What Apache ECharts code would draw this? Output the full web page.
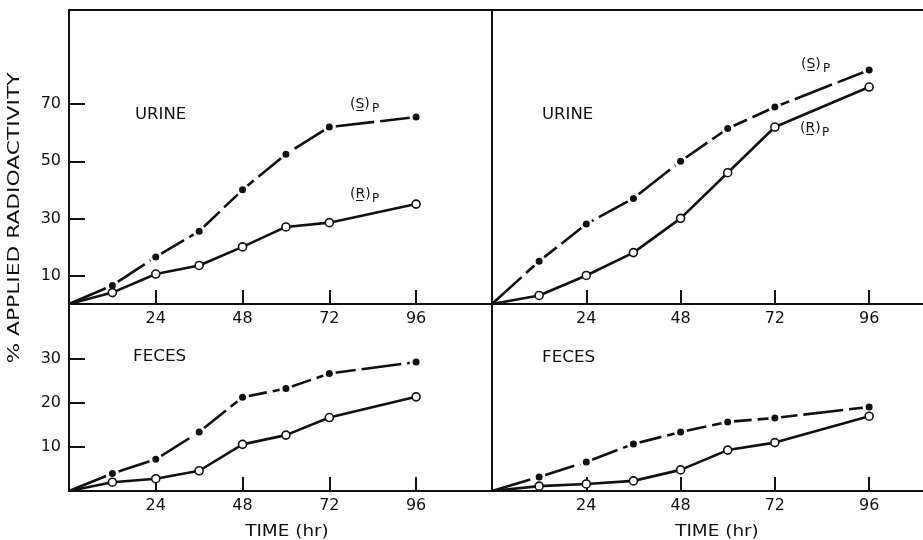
<!DOCTYPE html>
<html><head><meta charset="utf-8">
<script src="https://cdn.jsdelivr.net/npm/echarts@6/dist/echarts.min.js"></script>
<style>html,body{margin:0;background:#fff}#c{width:923px;height:540px}</style>
</head><body><div id="c"></div>
<script>
// ---- data ----
const times = [0, 12, 24, 36, 48, 60, 72, 96];
const urineS1 = [0, 6.5, 16.5, 25.5, 40, 52.5, 62, 65.5];
const urineR1 = [0, 4, 10.5, 13.5, 20, 27, 28.5, 35];
const urineS2 = [0, 15, 28, 37, 50, 61.5, 69, 82];
const urineR2 = [0, 3, 10, 18, 30, 46, 62, 76];
const fecesS1 = [0, 4.0, 7.2, 13.4, 21.3, 23.3, 26.7, 29.3];
const fecesR1 = [0, 2.0, 2.8, 4.6, 10.6, 12.7, 16.7, 21.4];
const fecesS2 = [0, 3.2, 6.6, 10.7, 13.4, 15.7, 16.6, 19.1];
const fecesR2 = [0, 1.1, 1.6, 2.3, 4.8, 9.3, 11.0, 17.0];
const xTicks = [24, 48, 72, 96];
const urineTicks = [10, 30, 50, 70];
const fecesTicks = [10, 20, 30];

const INK = '#111';
const FONT = 'DejaVu Sans';

function grid(left, top, width, height) {
  return {left, top, width, height, show: true, borderColor: INK, borderWidth: 2,
    backgroundColor: 'transparent', containLabel: false, outerBoundsMode: 'none'};
}
function xAx(gi, max) {
  return {type: 'value', gridIndex: gi, min: 0, max,
    axisLine: {show: false}, splitLine: {show: false},
    axisTick: {show: true, inside: true, length: 14, customValues: xTicks, lineStyle: {color: INK, width: 2}},
    axisLabel: {show: true, customValues: xTicks, margin: 7, fontSize: 16, color: INK, fontFamily: FONT}};
}
function yAx(gi, max, ticks) {
  const has = !!ticks;
  return {type: 'value', gridIndex: gi, min: 0, max,
    axisLine: {show: false}, splitLine: {show: false},
    axisTick: {show: has, inside: true, length: 16, customValues: ticks || [], lineStyle: {color: INK, width: 2}},
    axisLabel: {show: has, customValues: ticks || [], margin: 8, fontSize: 16, color: INK, fontFamily: FONT}};
}
function sSeries(gi, vals) {
  return {type: 'line', xAxisIndex: gi, yAxisIndex: gi, showAllSymbol: true,
    data: times.map((t, i) => ({value: [t, vals[i]], symbol: i === 0 ? 'none' : 'circle'})),
    symbolSize: 10, itemStyle: {color: INK, borderColor: '#fff', borderWidth: 3},
    lineStyle: {color: INK, width: 2.6, type: [40, 6]}, z: 2, silent: true, animation: false};
}
function rSeries(gi, vals) {
  return {type: 'line', xAxisIndex: gi, yAxisIndex: gi, showAllSymbol: true,
    data: times.map((t, i) => ({value: [t, vals[i]], symbol: i === 0 ? 'none' : 'circle'})),
    symbolSize: 8, itemStyle: {color: '#fff', borderColor: INK, borderWidth: 1.6},
    lineStyle: {color: INK, width: 2.6}, z: 3, silent: true, animation: false};
}
function txt(text, x, y, size, opts, align) {
  return Object.assign({type: 'text', x, y, silent: true,
    style: {text, font: size + 'px "' + FONT + '"', fill: INK, align: align || 'left', verticalAlign: 'middle'}}, opts || {});
}
function spLabel(letter, x, y) {
  return [txt('(' + letter + '\u0332)', x, y, 14), txt('P', x + 22, y + 5, 12)];
}

const chart = echarts.init(document.getElementById('c'), null, {renderer: 'canvas'});
chart.setOption({
  backgroundColor: '#fff',
  animation: false,
  grid: [grid(69, 10, 423, 294), grid(492, 10, 440, 294), grid(69, 304, 423, 187), grid(492, 304, 440, 187)],
  xAxis: [xAx(0, 117), xAx(1, 112), xAx(2, 117), xAx(3, 112)],
  yAxis: [yAx(0, 103, urineTicks), yAx(1, 103, null), yAx(2, 42.5, fecesTicks), yAx(3, 42.5, null)],
  series: [
    sSeries(0, urineS1), rSeries(0, urineR1),
    sSeries(1, urineS2), rSeries(1, urineR2),
    sSeries(2, fecesS1), rSeries(2, fecesR1),
    sSeries(3, fecesS2), rSeries(3, fecesR2)
  ],
  graphic: [
    txt('URINE', 135, 115, 15, {scaleX: 1.1}),
    txt('URINE', 542, 115, 15, {scaleX: 1.1}),
    txt('FECES', 133, 357, 15, {scaleX: 1.12}),
    txt('FECES', 542, 358, 15, {scaleX: 1.12}),
    ...spLabel('S', 350, 104),
    ...spLabel('R', 350, 194),
    ...spLabel('S', 801, 64),
    ...spLabel('R', 800, 128),
    txt('TIME (hr)', 287, 532, 16, {scaleX: 1.15}, 'center'),
    txt('TIME (hr)', 717, 532, 16, {scaleX: 1.15}, 'center'),
    txt('% APPLIED RADIOACTIVITY', 15, 218, 16, {rotation: Math.PI / 2, scaleX: 1.36}, 'center')
  ]
});
</script></body></html>
